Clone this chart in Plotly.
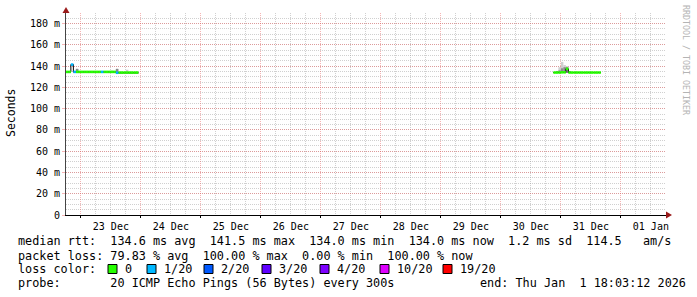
import plotly.graph_objects as go
import pandas as pd

# ---------------- data ----------------
range_start = "2025-12-22 18:03:12"
range_end = "2026-01-01 18:03:12"

seg1_start = "2025-12-22 18:00"
seg1_median = [134.6, 134.6, 141.5, 134.6, 134.6, 134.6, 134.6, 134.6, 134.6, 134.6,
               134.6, 134.6, 134.6, 134.6, 134.6, 134.6, 134.6, 134.6, 134.6, 134.6,
               133.8, 134.0, 134.0, 134.0, 134.0, 134.0, 134.0, 134.0, 134.0]
seg1_loss = [0, 0, 1, 1, 0, 0, 0, 0, 0, 0,
             0, 0, 0, 0, 1, 0, 0, 0, 0, 0,
             1, 0, 0, 0, 0, 0, 0, 0, 0]
seg1_smoke_lo = [134.1, 134.1, 141.0, 134.1, 134.1, 134.1, 134.1, 134.1, 134.1, 134.1,
                 134.1, 134.1, 134.1, 134.1, 134.1, 134.1, 134.1, 134.1, 134.1, 134.1,
                 133.3, 133.5, 133.5, 133.5, 133.5, 133.5, 133.5, 133.5, 133.5]
seg1_smoke_mid = [134.9, 134.9, 141.8, 134.9, 137.4, 134.9, 134.9, 134.9, 134.9, 134.9,
                  134.9, 134.9, 134.9, 134.9, 134.9, 134.9, 134.9, 134.9, 134.9, 134.9,
                  137.4, 134.3, 134.3, 134.3, 134.3, 134.3, 134.3, 134.3, 134.3]
seg1_smoke_hi = [135.0, 135.0, 142.0, 135.0, 137.6, 135.0, 135.0, 135.0, 135.0, 135.0,
                 135.0, 135.0, 135.0, 135.0, 135.0, 135.0, 135.0, 135.0, 135.8, 135.0,
                 137.6, 134.5, 134.5, 134.5, 136.6, 134.5, 134.5, 134.5, 134.5]

seg2_start = "2025-12-30 21:00"
seg2_median = [134.0, 134.0, 134.0, 134.2, 134.2, 137.5, 134.0, 134.0, 134.0, 134.0,
               134.0, 134.0, 134.0, 134.0, 134.0, 134.0, 134.0, 134.0, 134.0]
seg2_loss = [0, 0, 0, 0, 0, 0, 0, 0, 0, 0,
             0, 0, 0, 0, 0, 0, 0, 0, 0]
seg2_smoke_lo = [133.6, 133.6, 133.6, 133.6, 133.6, 133.6, 133.6, 133.6, 133.6, 133.6,
                 133.6, 133.6, 133.6, 133.6, 133.6, 133.6, 133.6, 133.6, 133.6]
seg2_smoke_mid = [134.3, 134.6, 136.0, 138.0, 139.0, 139.0, 134.8, 134.3, 134.3, 134.3,
                  134.3, 134.3, 134.3, 134.3, 134.3, 134.3, 134.3, 134.3, 134.3]
seg2_smoke_hi = [134.5, 135.5, 139.0, 144.0, 141.0, 140.0, 135.2, 134.5, 134.5, 134.5,
                 134.5, 134.5, 134.5, 134.5, 134.5, 134.5, 134.5, 134.5, 134.5]

y_tickvals = [0, 20, 40, 60, 80, 100, 120, 140, 160, 180]
y_ticktext = ["0", "20 m", "40 m", "60 m", "80 m", "100 m", "120 m", "140 m", "160 m", "180 m"]

loss_levels = [0, 1, 2, 3, 4, 10, 19]
loss_labels = ["0", "1/20", "2/20", "3/20", "4/20", "10/20", "19/20"]
loss_colors = ["#26ff00", "#00b8ff", "#0059ff", "#5e00ff", "#7e00ff", "#dd00ff", "#ff0000"]

stat_line1 = "median rtt:  134.6 ms avg  141.5 ms max  134.0 ms min  134.0 ms now  1.2 ms sd  114.5   am/s"
stat_line2 = "packet loss: 79.83 % avg  100.00 % max  0.00 % min  100.00 % now"
stat_line3 = "loss color:"
stat_line4 = "probe:       20 ICMP Echo Pings (56 Bytes) every 300s"
stat_end = "end: Thu Jan  1 18:03:12 2026"
watermark = "RRDTOOL / TOBI OETIKER"

# ---------------- layout constants ----------------
W, H = 697, 297
L, T, PW, PH = 66, 13, 600, 202
MONO = "DejaVu Sans Mono"


def px(x):
    return (x - L) / PW


def py(y):
    return (T + PH - y) / PH


def nb(s):
    return s.replace(" ", "\u00a0")


color_of = dict(zip(loss_levels, loss_colors))
segments = [
    (seg1_start, seg1_median, seg1_loss, seg1_smoke_lo, seg1_smoke_mid, seg1_smoke_hi),
    (seg2_start, seg2_median, seg2_loss, seg2_smoke_lo, seg2_smoke_mid, seg2_smoke_hi),
]

fig = go.Figure()
HOUR = 3600000

step_x, step_y = [], []
seg_x = {lv: [] for lv in loss_levels}
seg_y = {lv: [] for lv in loss_levels}
for start, med, loss, lo, mid, hi in segments:
    starts = pd.date_range(start, periods=len(med), freq="h")
    centers = starts + pd.Timedelta(minutes=30)
    # outer smoke (light)
    fig.add_trace(go.Bar(x=centers, base=lo, y=[h - l for h, l in zip(hi, lo)],
                         width=HOUR, marker=dict(color="#cfcfcf", line=dict(width=0)),
                         hoverinfo="skip"))
    # inner smoke (dark)
    fig.add_trace(go.Bar(x=centers, base=lo, y=[m - l for m, l in zip(mid, lo)],
                         width=HOUR, marker=dict(color="#8a8a8a", line=dict(width=0)),
                         hoverinfo="skip"))
    ends = list(starts) + [starts[-1] + pd.Timedelta(hours=1)]
    step_x += ends + [None]
    step_y += list(med) + [med[-1], None]
    for i, (m, lv) in enumerate(zip(med, loss)):
        seg_x[lv] += [ends[i], ends[i + 1], None]
        seg_y[lv] += [m, m, None]

# black step connecting median values
fig.add_trace(go.Scatter(x=step_x, y=step_y, mode="lines", line=dict(color="black", width=1, shape="hv"),
                         connectgaps=False, hoverinfo="skip"))
# median coloured by loss
for lv in loss_levels:
    if seg_x[lv]:
        fig.add_trace(go.Scatter(x=seg_x[lv], y=seg_y[lv], mode="lines",
                                 line=dict(color=color_of[lv], width=2.6), connectgaps=False,
                                 hoverinfo="skip"))

fig.update_layout(
    width=W, height=H,
    margin=dict(l=L, r=W - L - PW, t=T, b=H - T - PH),
    paper_bgcolor="white", plot_bgcolor="white",
    showlegend=False, barmode="overlay",
    font=dict(family=MONO, size=10, color="black"),
)

MGRID = "rgba(235,90,90,0.45)"
GRID = "rgba(150,150,150,0.45)"

fig.update_xaxes(
    type="date", range=[range_start, range_end],
    tick0="2025-12-23 00:00", dtick=86400000, tickformat="%d %b", ticklabelmode="period",
    showgrid=True, gridcolor=MGRID, griddash="1px,1px", gridwidth=1,
    minor=dict(dtick=6 * 3600000, showgrid=True, gridcolor=GRID, griddash="1px,1px", gridwidth=1),
    showline=True, linecolor="black", linewidth=1,
    ticks="outside", ticklen=2, tickcolor="black",
    tickfont=dict(family=MONO, size=10, color="black"),
    zeroline=False, fixedrange=True,
)
fig.update_yaxes(
    range=[0, 190], tickvals=y_tickvals, ticktext=y_ticktext,
    showgrid=True, gridcolor=MGRID, griddash="1px,1px", gridwidth=1,
    minor=dict(dtick=5, showgrid=True, gridcolor=GRID, griddash="1px,1px", gridwidth=1),
    showline=True, linecolor="#444444", linewidth=1,
    ticks="outside", ticklen=3, tickcolor=MGRID,
    tickfont=dict(family=MONO, size=10, color="black"),
    zeroline=False, fixedrange=True,
)

ARROW = "#9a1b1b"
fig.add_shape(type="path", xref="paper", yref="paper", xsizemode="pixel", ysizemode="pixel",
              xanchor=1, yanchor=0, path="M 0,-3.5 L 0,3.5 L 6,0 Z",
              fillcolor=ARROW, line=dict(width=0))
fig.add_shape(type="path", xref="paper", yref="paper", xsizemode="pixel", ysizemode="pixel",
              xanchor=0, yanchor=1, path="M -3.5,0 L 3.5,0 L 0,6 Z",
              fillcolor=ARROW, line=dict(width=0))

ann = []
ann.append(dict(text="Seconds", x=px(11), y=py(113), xref="paper", yref="paper", textangle=-90,
                showarrow=False, font=dict(family=MONO, size=11.5, color="black"),
                xanchor="center", yanchor="middle"))
ann.append(dict(text=nb(watermark), x=px(686), y=py(60), xref="paper", yref="paper", textangle=90,
                showarrow=False, font=dict(family=MONO, size=8.3, color="#b4b4b4"),
                xanchor="center", yanchor="middle"))
LEG = 11.8
for txt, yy, xx in [(stat_line1, 241, 16), (stat_line2, 255.5, 16), (stat_line3, 269, 16),
                    (stat_line4, 283, 16), (stat_end, 283, 478)]:
    ann.append(dict(text=nb(txt), x=px(xx), y=py(yy), xref="paper", yref="paper", showarrow=False,
                    font=dict(family=MONO, size=LEG, color="black"), xanchor="left", yanchor="middle"))

box_x = [108, 147, 204, 262, 320, 380, 443]
for bx, lab, col in zip(box_x, loss_labels, loss_colors):
    fig.add_shape(type="rect", xref="paper", yref="paper", x0=px(bx), x1=px(bx + 9),
                  y0=py(273.5), y1=py(264.5), fillcolor=col, line=dict(color="black", width=1))
    ann.append(dict(text=nb(lab), x=px(bx + 15), y=py(269), xref="paper", yref="paper", showarrow=False,
                    font=dict(family=MONO, size=LEG, color="black"), xanchor="left", yanchor="middle"))

fig.update_layout(annotations=ann)
fig.write_html("out.html")
